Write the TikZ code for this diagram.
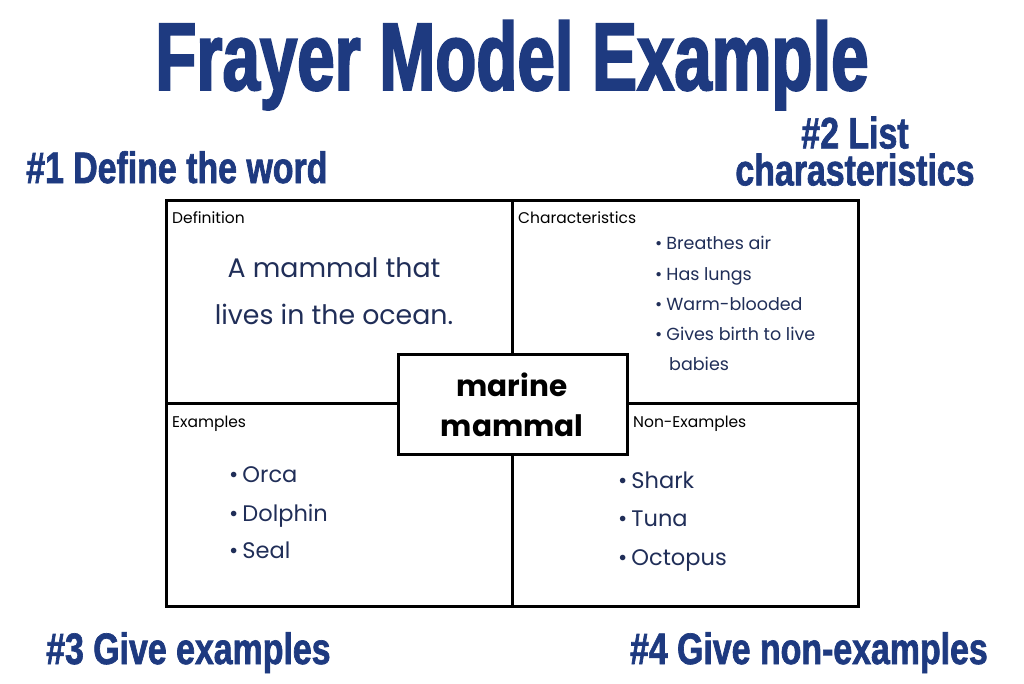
\documentclass[tikz,border=0pt]{standalone}
\usepackage{fontspec}
\setmainfont{Poppins}
\newfontfamily\titlefont[FakeStretch=0.70,FakeBold=2]{Liberation Sans Bold}
\newfontfamily\stepfont[FakeStretch=0.77,FakeBold=1.5]{Liberation Sans Bold}
\definecolor{titleblue}{RGB}{30,58,128}
\definecolor{bodynavy}{RGB}{32,46,88}
\tikzset{
  grid/.style={line width=3pt, black},
  ttl/.style={inner sep=0pt, text=titleblue, font=\titlefont\fontsize{96}{96}\selectfont},
  steplabel/.style={inner sep=0pt, text=titleblue, font=\stepfont\fontsize{44}{38}\selectfont},
  cornerlabel/.style={inner sep=0pt, anchor=base west, text=black, font=\fontsize{15.5}{15.5}\selectfont},
  deftext/.style={inner sep=0pt, anchor=base, text=bodynavy, font=\fontsize{26.8}{26.8}\selectfont},
  charitem/.style={inner sep=0pt, anchor=base west, text=bodynavy, font=\fontsize{17.5}{17.5}\selectfont},
  exitem/.style={inner sep=0pt, anchor=base west, text=bodynavy, font=\fontsize{22.5}{22.5}\selectfont},
  wordtext/.style={inner sep=0pt, anchor=base, text=black, font=\bfseries\fontsize{29.5}{29.5}\selectfont},
}
\begin{document}
\begin{tikzpicture}[x=1pt,y=-1pt]
\useasboundingbox[fill=white] (0,0) rectangle (1024,683);
% title and step labels
\node[ttl, anchor=base] (title) at (512,90) {Frayer Model Example};
\node[steplabel, anchor=base west] (s1) at (26,183) {\#1 Define the word};
\node[steplabel, anchor=south, align=center] (s2) at (855,186) {\#2 List\\[-1pt]charasteristics};
\node[steplabel, anchor=base west] (s3) at (46,664) {\#3 Give examples};
\node[steplabel, anchor=base east] (s4) at (988,664) {\#4 Give non-examples};
% grid
\coordinate (tl) at (166,200);
\coordinate (br) at (858,606);
\coordinate (vt) at (512,200);
\coordinate (vb) at (512,606);
\coordinate (hl) at (166,403);
\coordinate (hr) at (858,403);
\draw[grid] (tl) rectangle (br);
\draw[grid] (vt) -- (vb);
\draw[grid] (hl) -- (hr);
% centre word box
\coordinate (ctl) at (398,354);
\coordinate (cbr) at (627,454);
\draw[grid, fill=white] (ctl) rectangle (cbr);
\node[wordtext] (w1) at (512,396) {marine};
\node[wordtext] (w2) at (512,436) {mammal};
% corner labels
\node[cornerlabel] (ldef) at (172,223) {Definition};
\node[cornerlabel] (lchar) at (518,223) {Characteristics};
\node[cornerlabel] (lex) at (172,427) {Examples};
\node[cornerlabel] (lnon) at (633,427) {Non-Examples};
% definition
\node[deftext] (d1) at (334,277) {A mammal that};
\node[deftext] (d2) at (334,324) {lives in the ocean.};
% characteristics
\node[charitem] (c1) at (655,249) {•\hspace{4pt}Breathes air};
\node[charitem] (c2) at (655,280) {•\hspace{4pt}Has lungs};
\node[charitem] (c3) at (655,310) {•\hspace{4pt}Warm-blooded};
\node[charitem] (c4) at (655,340) {•\hspace{4pt}Gives birth to live};
\node[charitem] (c5) at (669,370) {babies};
% examples
\node[exitem] (e1) at (229,482) {•\hspace{4pt}Orca};
\node[exitem] (e2) at (229,521) {•\hspace{4pt}Dolphin};
\node[exitem] (e3) at (229,558) {•\hspace{4pt}Seal};
% non-examples
\node[exitem] (n1) at (618,488) {•\hspace{4pt}Shark};
\node[exitem] (n2) at (618,526) {•\hspace{4pt}Tuna};
\node[exitem] (n3) at (618,565) {•\hspace{4pt}Octopus};
\end{tikzpicture}
\end{document}
